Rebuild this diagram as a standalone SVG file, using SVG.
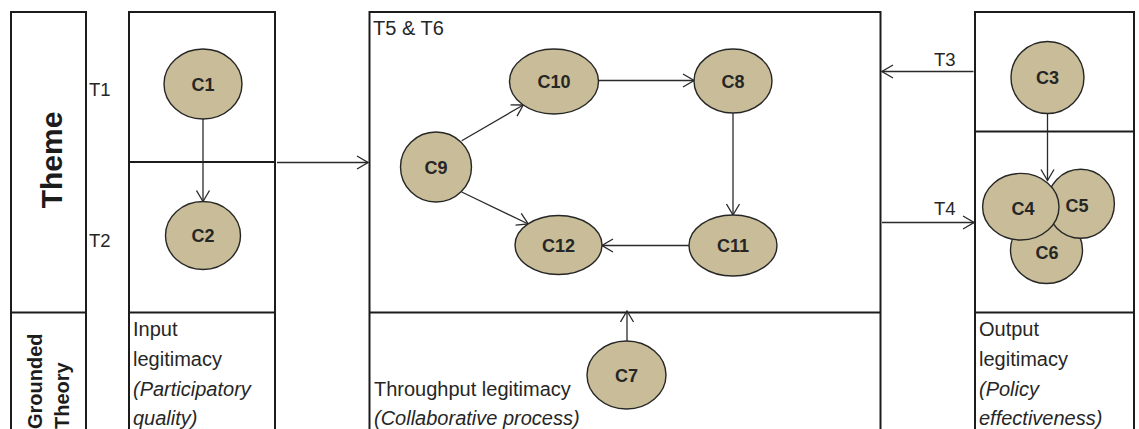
<svg xmlns="http://www.w3.org/2000/svg" width="1139" height="429" viewBox="0 0 1139 429">
  <style>
    .frame { fill: none; stroke: #1c1c1c; stroke-width: 2; }
    .node ellipse { fill: #c8bd98; stroke: #262626; stroke-width: 1.4; }
    .node text { font-family: "Liberation Sans", Arial, sans-serif; font-size: 18px; font-weight: bold; fill: #262626; text-anchor: middle; }
    .edge { fill: none; stroke: #2a2a2a; stroke-width: 1.3; marker-end: url(#open); }
    .lbl { font-family: "Liberation Sans", Arial, sans-serif; font-size: 20px; fill: #262626; }
    .tag { font-family: "Liberation Sans", Arial, sans-serif; font-size: 18.5px; fill: #262626; }
    .head { font-family: "Liberation Sans", Arial, sans-serif; font-weight: bold; fill: #1c1c1c; }
    .it { font-style: italic; }
  </style>
  <defs>
    <marker id="open" viewBox="0 0 13 15" refX="12" refY="7.5" markerWidth="13" markerHeight="15" markerUnits="userSpaceOnUse" orient="auto">
      <path d="M1,1 L12,7.5 L1,14" fill="none" stroke="#2a2a2a" stroke-width="1.3"/>
    </marker>
  </defs>
  <rect width="1139" height="429" fill="#ffffff"/>

  <!-- column frames -->
  <g id="frames">
    <rect class="frame" x="11" y="12" width="75" height="430"/>
    <line class="frame" x1="11" y1="312.5" x2="86" y2="312.5"/>
    <rect class="frame" x="129" y="12" width="146" height="430"/>
    <line class="frame" x1="129" y1="162" x2="275" y2="162"/>
    <line class="frame" x1="129" y1="312.5" x2="275" y2="312.5"/>
    <rect class="frame" x="369.5" y="12" width="511" height="430"/>
    <line class="frame" x1="369.5" y1="312.5" x2="880.5" y2="312.5"/>
    <rect class="frame" x="975" y="12" width="159" height="430"/>
    <line class="frame" x1="975" y1="131.5" x2="1134" y2="131.5"/>
    <line class="frame" x1="975" y1="312.5" x2="1134" y2="312.5"/>
  </g>

  <!-- row headings -->
  <g id="headings">
    <text class="head" font-size="30" transform="translate(62,160) rotate(-90)" text-anchor="middle">Theme</text>
    <text class="head" font-size="20" transform="translate(42,429) rotate(-90)">Grounded</text>
    <text class="head" font-size="20" transform="translate(68.5,429) rotate(-90)">Theory</text>
  </g>

  <!-- time labels -->
  <g id="tags">
    <text class="tag" x="89" y="96">T1</text>
    <text class="tag" x="89" y="247">T2</text>
    <text class="tag" x="934" y="66">T3</text>
    <text class="tag" x="934" y="215">T4</text>
    <text class="lbl" x="373" y="35">T5 &amp; T6</text>
  </g>

  <!-- legitimacy labels -->
  <g id="legitimacy">
    <text class="lbl" x="133" y="336">Input</text>
    <text class="lbl" x="133" y="366">legitimacy</text>
    <text class="lbl it" x="133" y="395.5">(Participatory</text>
    <text class="lbl it" x="133" y="425">quality)</text>
    <text class="lbl" x="374" y="396">Throughput legitimacy</text>
    <text class="lbl it" x="374" y="425">(Collaborative process)</text>
    <text class="lbl" x="979" y="336">Output</text>
    <text class="lbl" x="979" y="366">legitimacy</text>
    <text class="lbl it" x="979" y="395.5">(Policy</text>
    <text class="lbl it" x="979" y="425">effectiveness)</text>
  </g>

  <!-- connectors -->
  <g id="connectors">
    <line class="edge" x1="203" y1="119" x2="203" y2="201.5"/>
    <line class="edge" x1="277" y1="162.5" x2="368" y2="162.5"/>
    <line class="edge" x1="461.7" y1="140.7" x2="523.3" y2="105"/>
    <line class="edge" x1="461.7" y1="192" x2="528.3" y2="224"/>
    <line class="edge" x1="598.7" y1="80.5" x2="694" y2="80.5"/>
    <line class="edge" x1="733" y1="113.3" x2="733" y2="215"/>
    <line class="edge" x1="689" y1="245.5" x2="602" y2="245.5"/>
    <line class="edge" x1="627" y1="341" x2="627" y2="311"/>
    <line class="edge" x1="973.5" y1="71.5" x2="882" y2="71.5"/>
    <line class="edge" x1="882" y1="222.5" x2="974" y2="222.5"/>
    <line class="edge" x1="1047.5" y1="113.5" x2="1047.5" y2="180.5"/>
  </g>

  <!-- concept nodes -->
  <g id="C1" class="node"><ellipse cx="203" cy="84" rx="39" ry="35"/><text x="203" y="90.5">C1</text></g>
  <g id="C2" class="node"><ellipse cx="203" cy="235.5" rx="37.5" ry="34"/><text x="203" y="242">C2</text></g>
  <g id="C9" class="node"><ellipse cx="436" cy="167" rx="35.5" ry="35"/><text x="436" y="173.5">C9</text></g>
  <g id="C10" class="node"><ellipse cx="554" cy="81.5" rx="44.5" ry="32.5"/><text x="554" y="88">C10</text></g>
  <g id="C8" class="node"><ellipse cx="733" cy="81" rx="39" ry="32"/><text x="733" y="87.5">C8</text></g>
  <g id="C12" class="node"><ellipse cx="558.5" cy="245" rx="43.5" ry="29.5"/><text x="558.5" y="251.5">C12</text></g>
  <g id="C11" class="node"><ellipse cx="733" cy="245.5" rx="44" ry="30.5"/><text x="733" y="252">C11</text></g>
  <g id="C7" class="node"><ellipse cx="626.5" cy="375" rx="39.5" ry="34"/><text x="626.5" y="381.5">C7</text></g>
  <g id="C3" class="node"><ellipse cx="1047.5" cy="77.5" rx="36.5" ry="36"/><text x="1047.5" y="84">C3</text></g>
  <g id="C6" class="node"><ellipse cx="1046.5" cy="250" rx="36" ry="33.5"/><text x="1047" y="259">C6</text></g>
  <g id="C5" class="node"><ellipse cx="1080.7" cy="203.8" rx="33.7" ry="34.5"/><text x="1077" y="211.5">C5</text></g>
  <g id="C4" class="node"><ellipse cx="1020.8" cy="206.7" rx="38.2" ry="33.3"/><text x="1023" y="214.5">C4</text></g>
</svg>
